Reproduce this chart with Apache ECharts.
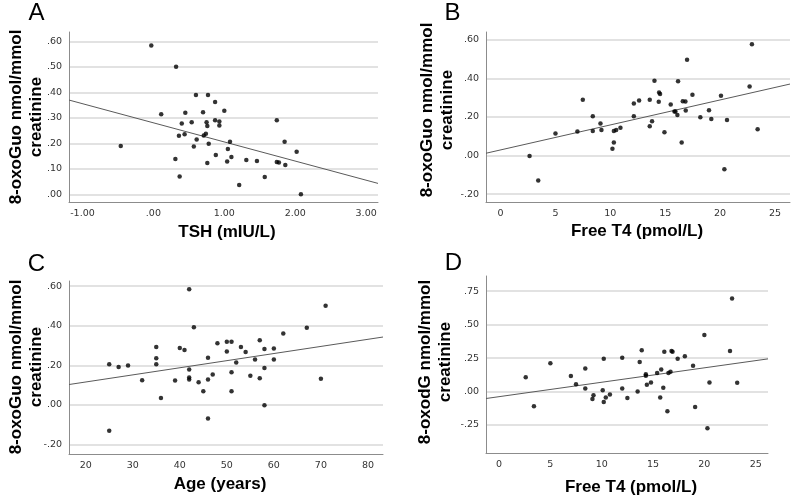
<!DOCTYPE html>
<html>
<head>
<meta charset="utf-8">
<script src="https://cdn.jsdelivr.net/npm/echarts@6/dist/echarts.min.js"></script>
<style>html,body{margin:0;padding:0;background:#fff}#c{width:793px;height:498px}</style>
</head>
<body>
<div id="c"></div>
<script>
// Panel A: TSH vs 8-oxoGuo
const tshA = [-0.46,-0.03,0.11,0.32,0.31,0.36,0.37,0.40,0.44,0.45,0.54,0.57,0.60,0.61,0.70,0.71,0.74,0.75,0.76,0.77,0.76,0.78,0.87,0.87,0.88,0.93,0.93,1.00,1.04,1.05,1.08,1.10,1.21,1.31,1.46,1.57,1.74,1.74,1.77,1.85,1.86,2.02,2.08];
const oxoGuoA = [0.190,0.584,0.314,0.501,0.139,0.230,0.070,0.278,0.236,0.320,0.283,0.188,0.390,0.215,0.322,0.231,0.238,0.283,0.268,0.390,0.123,0.199,0.362,0.291,0.154,0.286,0.270,0.328,0.129,0.178,0.206,0.147,0.037,0.135,0.131,0.068,0.291,0.127,0.125,0.206,0.115,0.167,0.000];
const fitAx = [-1.19, 3.167], fitAy = [0.370, 0.043];

// Panel B: Free T4 vs 8-oxoGuo
const ft4B = [2.64,3.43,5.0,7.0,7.49,8.4,8.4,9.1,9.19,10.19,10.32,10.32,10.53,10.92,12.14,12.14,12.62,13.59,13.59,13.8,14.02,14.41,14.44,14.53,14.93,15.5,15.84,15.93,16.11,16.17,16.5,16.6,16.84,16.87,16.99,17.48,18.2,18.99,19.2,20.08,20.39,20.63,22.69,22.9,23.42];
const oxoGuoB = [-0.002,-0.130,0.114,0.125,0.289,0.204,0.128,0.166,0.132,0.035,0.068,0.128,0.132,0.144,0.270,0.204,0.286,0.289,0.152,0.178,0.388,0.279,0.327,0.319,0.121,0.265,0.229,0.229,0.211,0.386,0.068,0.282,0.281,0.234,0.497,0.315,0.199,0.235,0.189,0.310,-0.071,0.185,0.358,0.578,0.137];
const fitBx = [-1.33, 26.37], fitBy = [0.012, 0.371];

// Panel C: Age vs 8-oxoGuo
const ageC = [25,25,27,29,32,35,35,35,36,39,40,41,42,42,42,42,43,44,45,46,46,46,47,48,50,50,51,51,51,52,53,54,55,56,57,57,58,58,58,60,60,62,67,70,71];
const oxoGuoC = [0.206,-0.130,0.191,0.199,0.125,0.292,0.236,0.206,0.035,0.123,0.287,0.278,0.584,0.179,0.138,0.128,0.392,0.115,0.069,0.238,0.128,-0.069,0.154,0.312,0.270,0.319,0.319,0.165,0.069,0.214,0.292,0.267,0.147,0.230,0.327,0.135,0.282,0.186,-0.002,0.285,0.230,0.361,0.390,0.132,0.501];
const fitCx = [16.45, 83.2], fitCy = [0.103, 0.343];

// Panel D: Free T4 vs 8-oxodG
const ft4D = [2.6,3.4,5.0,7.0,7.5,8.4,8.4,9.1,9.2,10.1,10.2,10.2,10.4,10.8,12.0,12.0,12.5,13.5,13.7,13.9,14.3,14.3,14.4,14.8,15.4,15.7,15.8,16.0,16.1,16.4,16.5,16.7,16.8,16.9,17.4,18.1,18.9,19.1,20.0,20.3,20.5,22.5,22.7,23.2];
const oxodgD = [0.107,-0.110,0.212,0.117,0.055,0.172,0.022,-0.055,-0.028,0.010,0.245,-0.078,-0.045,-0.022,0.252,0.022,-0.048,0.000,0.220,0.308,0.130,0.118,0.050,0.068,0.138,-0.045,0.165,0.028,0.298,-0.148,0.138,0.148,0.303,0.298,0.245,0.263,0.193,-0.115,0.423,-0.275,0.068,0.303,0.695,0.065];
const fitDx = [-1.27, 26.2], fitDy = [-0.052, 0.244];

// Tick values
const yTicksA = [0, 0.1, 0.2, 0.3, 0.4, 0.5, 0.6];
const xTicksA = [-1, 0, 1, 2, 3];
const yTicksB = [-0.2, 0, 0.2, 0.4, 0.6];
const xTicksB = [0, 5, 10, 15, 20, 25];
const yTicksC = [-0.2, 0, 0.2, 0.4, 0.6];
const xTicksC = [20, 30, 40, 50, 60, 70, 80];
const yTicksD = [-0.25, 0, 0.25, 0.5, 0.75];
const xTicksD = [0, 5, 10, 15, 20, 25];

const yTitleGuo = '8-oxoGuo nmol/mmol\ncreatinine';
const yTitleDG = '8-oxodG nmol/mmol\ncreatinine';

function spss(v) {
  const s = Math.abs(v).toFixed(2).replace(/^0/, '');
  return (v < 0 ? '-' : '') + s;
}
function zip(a, b) { return a.map((v, i) => [v, b[i]]); }

const labelStyle = { fontFamily: 'DejaVu Sans', fontSize: 9.5, color: '#333' };
const axisLine = { show: true, onZero: false, lineStyle: { color: '#8c8c8c', width: 1 } };

function xAx(idx, min, max, ticks, fmt) {
  return {
    type: 'value', gridIndex: idx, min: min, max: max,
    axisLine: axisLine,
    axisTick: { show: false, customValues: ticks },
    axisLabel: Object.assign({ customValues: ticks, margin: 7, formatter: fmt }, labelStyle),
    splitLine: { show: false }
  };
}
function yAx(idx, min, max, ticks) {
  return {
    type: 'value', gridIndex: idx, min: min, max: max,
    axisLine: axisLine,
    axisTick: { show: false, customValues: ticks },
    axisLabel: Object.assign({ customValues: ticks, margin: 7, formatter: spss }, labelStyle),
    splitLine: { show: true, lineStyle: { color: '#d9d9d9', width: 1.5 } }
  };
}
function scat(i, x, y) {
  return { type: 'scatter', xAxisIndex: i, yAxisIndex: i, data: zip(x, y),
    symbol: 'circle', symbolSize: 4.5, itemStyle: { color: '#000' }, silent: true };
}
function fit(i, x, y) {
  return { type: 'line', xAxisIndex: i, yAxisIndex: i, data: zip(x, y),
    symbol: 'none', lineStyle: { color: '#5a5a5a', width: 1 }, silent: true, z: 1 };
}
function txt(x, y, text, size, weight, rot) {
  return { type: 'text', x: x, y: y, rotation: rot || 0, silent: true,
    style: { text: text, fontSize: size, fontWeight: weight, fontFamily: 'Liberation Sans',
      fill: '#000', align: 'center', verticalAlign: 'middle', lineHeight: Math.round(size * 1.18) } };
}
const intFmt = v => String(v);

const chart = echarts.init(document.getElementById('c'), null, { renderer: 'canvas' });
chart.setOption({
  animation: false,
  backgroundColor: '#fff',
  grid: [
    { left: 69, right: 415, top: 32, bottom: 296 },
    { left: 486, right: 3, top: 32, bottom: 296 },
    { left: 69, right: 410, top: 281, bottom: 44 },
    { left: 486, right: 25, top: 276, bottom: 45 }
  ],
  xAxis: [
    xAx(0, -1.19, 3.167, xTicksA, spss),
    xAx(1, -1.33, 26.37, xTicksB, intFmt),
    xAx(2, 16.45, 83.2, xTicksC, intFmt),
    xAx(3, -1.27, 26.2, xTicksD, intFmt)
  ],
  yAxis: [
    yAx(0, -0.03, 0.637, yTicksA),
    yAx(1, -0.241, 0.641, yTicksB),
    yAx(2, -0.248, 0.626, yTicksC),
    yAx(3, -0.459, 0.863, yTicksD)
  ],
  series: [
    fit(0, fitAx, fitAy), scat(0, tshA, oxoGuoA),
    fit(1, fitBx, fitBy), scat(1, ft4B, oxoGuoB),
    fit(2, fitCx, fitCy), scat(2, ageC, oxoGuoC),
    fit(3, fitDx, fitDy), scat(3, ft4D, oxodgD)
  ],
  graphic: [
    txt(36.5, 13.5, 'A', 24, 'normal'),
    txt(452.5, 13.5, 'B', 24, 'normal'),
    txt(36.5, 264.5, 'C', 24, 'normal'),
    txt(453.5, 263, 'D', 24, 'normal'),
    txt(26, 117, yTitleGuo, 17, 'bold', Math.PI / 2),
    txt(437.5, 110, yTitleGuo, 17, 'bold', Math.PI / 2),
    txt(26, 367, yTitleGuo, 17, 'bold', Math.PI / 2),
    txt(435, 362, yTitleDG, 17, 'bold', Math.PI / 2),
    txt(227, 232, 'TSH (mIU/L)', 17, 'bold'),
    txt(637, 231, 'Free T4 (pmol/L)', 17, 'bold'),
    txt(220, 484, 'Age (years)', 17, 'bold'),
    txt(631, 487, 'Free T4 (pmol/L)', 17, 'bold')
  ]
});
</script>
</body>
</html>
